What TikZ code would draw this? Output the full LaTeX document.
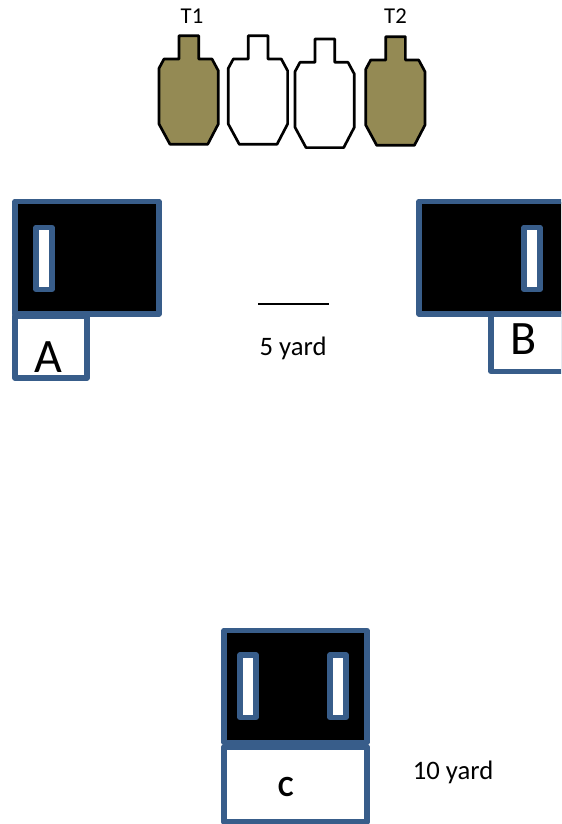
\documentclass[tikz,border=0pt]{standalone}
\usepackage{fontspec}
\setmainfont{Carlito}
\definecolor{frameblue}{HTML}{385D8A}
\definecolor{olive}{HTML}{948A54}
\tikzset{
  panel/.style={draw=frameblue,line width=4.1pt,line join=round,fill=black},
  labelbox/.style={draw=frameblue,line width=4.1pt,line join=round,fill=white},
  slot/.style={draw=frameblue,line width=4.1pt,line join=round,fill=white},
  target/.style={draw=black,line width=2pt,line join=round},
  small/.style={font=\fontsize{17}{19}\selectfont,inner sep=0pt},
  dist/.style={font=\fontsize{20}{22}\selectfont,inner sep=0pt},
  big/.style={font=\fontsize{36}{38}\selectfont,inner sep=0pt},
}
\newcommand{\silhouette}[3]{%
  \draw[target,fill=#3,shift={(#1,#2)}] (179,35.7) -- (198.7,35.7) -- (198.7,59) -- (212,59) -- (218.3,70.7) -- (218.3,124) -- (207.7,144.3) -- (170,144.3) -- (159,124) -- (159,68.3) -- (164,59) -- (179,59) -- cycle;}
\begin{document}
\begin{tikzpicture}[x=0.75pt,y=-0.75pt]
\useasboundingbox (0,0) rectangle (561,824);
\clip (0,0) rectangle (561,824);
\fill[white] (0,0) rectangle (561,824);
% targets
\silhouette{0}{0}{olive}
\silhouette{69.3}{0}{white}
\silhouette{136}{3.3}{white}
\silhouette{206.7}{1}{olive}
\node[small] (t1) at (192,16) {T1};
\node[small] (t2) at (395.5,16) {T2};
% A
\draw[labelbox] (15,316) rectangle (87,378);
\draw[panel] (15,201.5) rectangle (159,314);
\draw[slot] (36,227.5) rectangle (52,289.5);
\node[big] (a) at (48,357) {A};
% B
\draw[labelbox] (491,314) rectangle (564,371.5);
\draw[panel] (419,201.5) rectangle (566,314);
\draw[slot] (524,227.5) rectangle (540,289.5);
\node[big] (b) at (524,339) {B};
% distance
\draw[black,line width=1.2pt] (258,304) -- (329,304);
\node[dist] (five) at (293,348) {5 yard};
\node[dist] (ten) at (453,772) {10 yard};
% C
\draw[labelbox] (224,747) rectangle (367,822);
\draw[panel] (224,630.5) rectangle (367,742.5);
\draw[slot] (240,655) rectangle (256,717.5);
\draw[slot] (330,655) rectangle (346,717.5);
\node[font=\fontsize{22}{24}\selectfont\bfseries,inner sep=0pt] (c) at (286,787) {C};
\end{tikzpicture}
\end{document}
